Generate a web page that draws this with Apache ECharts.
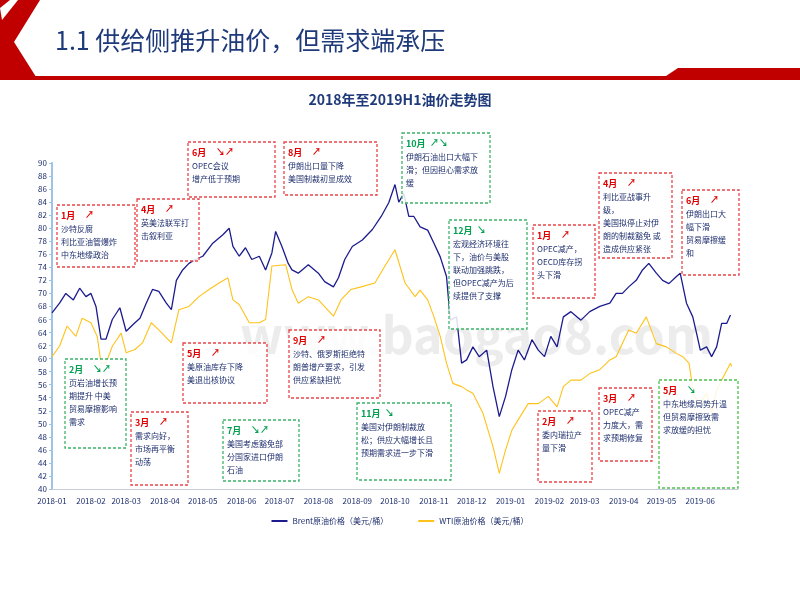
<!DOCTYPE html>
<html>
<head>
<meta charset="utf-8">
<script src="https://cdn.jsdelivr.net/npm/echarts@6/dist/echarts.min.js"></script>
<style>
  html, body { margin: 0; padding: 0; background: #fff; }
  #chart { width: 800px; height: 600px; }
</style>
</head>
<body>
<div id="chart"></div>
<script>
const FONT = '"Noto Sans CJK SC", "Noto Sans", sans-serif'
const NAVY = '#1f2f6e'

const brentDates = ['2018-01-01','2018-01-07','2018-01-12','2018-01-18','2018-01-23','2018-01-28','2018-02-01','2018-02-05','2018-02-09','2018-02-13','2018-02-18','2018-02-24','2018-03-01','2018-03-08','2018-03-12','2018-03-17','2018-03-22','2018-03-27','2018-04-02','2018-04-06','2018-04-10','2018-04-15','2018-04-20','2018-04-25','2018-05-01','2018-05-09','2018-05-17','2018-05-22','2018-05-25','2018-05-30','2018-06-04','2018-06-09','2018-06-15','2018-06-20','2018-06-25','2018-06-28','2018-07-03','2018-07-08','2018-07-11','2018-07-16','2018-07-24','2018-08-01','2018-08-06','2018-08-13','2018-08-17','2018-08-22','2018-08-28','2018-09-05','2018-09-13','2018-09-20','2018-09-26','2018-10-01','2018-10-04','2018-10-08','2018-10-12','2018-10-16','2018-10-21','2018-10-27','2018-11-01','2018-11-06','2018-11-11','2018-11-14','2018-11-19','2018-11-23','2018-11-27','2018-12-02','2018-12-07','2018-12-13','2018-12-18','2018-12-23','2018-12-28','2019-01-02','2019-01-07','2019-01-12','2019-01-18','2019-01-23','2019-01-28','2019-02-02','2019-02-07','2019-02-12','2019-02-18','2019-02-26','2019-03-05','2019-03-13','2019-03-21','2019-03-26','2019-03-31','2019-04-05','2019-04-11','2019-04-16','2019-04-21','2019-04-27','2019-05-02','2019-05-07','2019-05-13','2019-05-16','2019-05-21','2019-05-26','2019-05-29','2019-06-01','2019-06-06','2019-06-10','2019-06-14','2019-06-18','2019-06-22','2019-06-25']
const brentValues = [67,68.5,70,69,70.8,69.5,70,68,63,63,66,67.8,64.2,65.5,66.2,68.5,70.6,70.3,68.5,67.5,72,73.6,74.6,75.2,75.7,77.7,79,80,77.2,75.7,77,75.2,75.7,73.6,76.2,79.5,77.2,74.6,73.6,73.1,74.4,73.1,71.8,71,72.4,75.2,77.2,78.2,79.8,81.8,83.9,86.7,84,85.3,81.8,81.8,80.2,79.7,77.7,75.6,72.6,65.9,66.4,59.3,59.8,61.8,60.3,61.3,55.7,51.1,54.2,58.3,61.3,59.8,62.9,61.3,60.3,63.4,61.8,66.4,67.2,65.9,67.2,68,68.5,70,70,71,72,73.6,74.6,73.1,72,71.5,72.6,73.1,68.5,66.4,63.9,61.3,61.8,60.3,61.8,65.4,65.4,66.7]

const wtiDates = ['2018-01-01','2018-01-07','2018-01-13','2018-01-20','2018-01-25','2018-02-01','2018-02-06','2018-02-09','2018-02-13','2018-02-18','2018-02-25','2018-03-01','2018-03-08','2018-03-14','2018-03-21','2018-03-27','2018-04-06','2018-04-12','2018-04-20','2018-04-28','2018-05-06','2018-05-14','2018-05-21','2018-05-25','2018-05-30','2018-06-07','2018-06-15','2018-06-20','2018-06-25','2018-07-06','2018-07-11','2018-07-16','2018-07-24','2018-08-01','2018-08-13','2018-08-19','2018-08-27','2018-09-04','2018-09-15','2018-09-23','2018-10-01','2018-10-09','2018-10-17','2018-10-21','2018-10-27','2018-11-01','2018-11-06','2018-11-11','2018-11-16','2018-11-23','2018-11-27','2018-12-02','2018-12-10','2018-12-18','2018-12-23','2018-12-28','2019-01-02','2019-01-07','2019-01-15','2019-01-23','2019-01-31','2019-02-07','2019-02-12','2019-02-18','2019-02-26','2019-03-05','2019-03-13','2019-03-21','2019-03-26','2019-04-05','2019-04-11','2019-04-19','2019-04-27','2019-05-05','2019-05-13','2019-05-18','2019-05-23','2019-05-27','2019-06-01','2019-06-06','2019-06-10','2019-06-14','2019-06-18','2019-06-25','2019-06-26']
const wtiValues = [60.3,61.9,65,63.4,66.2,65.5,63.4,59.3,59.3,61.9,63.9,60.9,61.4,62.4,65.5,64.4,62.4,67.5,68,69.5,70.6,71.6,72.4,69,68.3,65.5,65.5,66,74.2,74.4,70.6,68.5,69.5,69,66.5,69,70.6,71,71.6,74.2,76.7,71.6,69.5,70.5,69,66.4,63.4,59.3,56.2,55.7,55.2,54.7,51.6,46.5,42.4,46,49,50.6,53.1,53.1,54.2,52.6,55.7,56.7,56.7,57.7,58.3,59.8,60.3,64.4,63.9,66.4,62.3,61.8,60.8,60.3,59.3,54.2,53.1,54.7,51.6,55.2,56.7,59.3,58.8]

const yMin = 40
const yMax = 90
const yInterval = 2

const RED = '#e8454a'
const GREEN = '#3db36b'
const notes = [
  { box: [57, 205, 78, 62], color: RED, head: '1月', headColor: '#e00000', arrows: '↗', lines: ['沙特反腐', '利比亚油管爆炸', '中东地缘政治'] },
  { box: [137, 199, 62, 62], color: RED, head: '4月', headColor: '#e00000', arrows: '↗', lines: ['英美法联军打', '击叙利亚'] },
  { box: [188, 142, 87, 55], color: RED, head: '6月', headColor: '#e00000', arrows: '↘↗', lines: ['OPEC会议', '增产低于预期'] },
  { box: [284, 142, 93, 53], color: RED, head: '8月', headColor: '#e00000', arrows: '↗', lines: ['伊朗出口量下降', '美国制裁初显成效'] },
  { box: [402, 133, 88, 70], color: GREEN, head: '10月', headColor: '#00a050', arrows: '↗↘', lines: ['伊朗石油出口大幅下', '滑；但因担心需求放', '缓'] },
  { box: [449, 220, 78, 109], color: GREEN, head: '12月', headColor: '#00a050', arrows: '↘', lines: ['宏观经济环境往', '下，油价与美股', '联动加强跳跌，', '但OPEC减产为后', '续提供了支撑'] },
  { box: [533, 225, 62, 73], color: RED, head: '1月', headColor: '#e00000', arrows: '↗', lines: ['OPEC减产，', 'OECD库存拐', '头下滑'] },
  { box: [599, 173, 73, 85], color: RED, head: '4月', headColor: '#e00000', arrows: '↗', lines: ['利比亚战事升', '级，', '美国拟停止对伊', '朗的制裁豁免 或', '造成供应紧张'] },
  { box: [682, 190, 57, 85], color: RED, head: '6月', headColor: '#e00000', arrows: '↗', lines: ['伊朗出口大', '幅下滑', '贸易摩擦缓', '和'] },
  { box: [65, 359, 61, 89], color: GREEN, head: '2月', headColor: '#00a050', arrows: '↘↗', lines: ['页岩油增长预', '期提升 中美', '贸易摩擦影响', '需求'] },
  { box: [131, 412, 57, 73], color: RED, head: '3月', headColor: '#e00000', arrows: '↗', lines: ['需求向好，', '市场再平衡', '动荡'] },
  { box: [183, 343, 84, 60], color: RED, head: '5月', headColor: '#e00000', arrows: '↗', lines: ['美原油库存下降', '美退出核协议'] },
  { box: [223, 420, 76, 61], color: GREEN, head: '7月', headColor: '#00a050', arrows: '↘↗', lines: ['美国考虑豁免部', '分国家进口伊朗', '石油'] },
  { box: [289, 330, 91, 68], color: RED, head: '9月', headColor: '#e00000', arrows: '↗', lines: ['沙特、俄罗斯拒绝特', '朗普增产要求，引发', '供应紧缺担忧'] },
  { box: [357, 403, 94, 77], color: GREEN, head: '11月', headColor: '#00a050', arrows: '↘', lines: ['美国对伊朗制裁放', '松；供应大幅增长且', '预期需求进一步下滑'] },
  { box: [538, 411, 54, 71], color: RED, head: '2月', headColor: '#e00000', arrows: '↗', lines: ['委内瑞拉产', '量下滑'] },
  { box: [599, 388, 53, 73], color: RED, head: '3月', headColor: '#e00000', arrows: '↗', lines: ['OPEC减产', '力度大，需', '求预期修复'] },
  { box: [659, 380, 79, 108], color: '#4cc24c', head: '5月', headColor: '#e00000', arrows: '↘', lines: ['中东地缘局势升温', '但贸易摩擦致需', '求放缓的担忧'] }
]

const noteGraphics = notes.flatMap((n) => {
  const [x, y, w, h] = n.box
  const items = [
    {
      type: 'rect', shape: { x, y, width: w, height: h }, z: 10,
      style: { fill: 'rgba(255,255,255,0.85)', stroke: n.color, lineWidth: 1.3, lineDash: [3, 2] }
    },
    {
      type: 'text', x: x + 4, y: y + 6, z: 11,
      style: { text: n.head, fill: n.headColor, font: 'bold 9px ' + FONT }
    },
    {
      type: 'text', x: x + 28, y: y + 5, z: 11,
      style: { text: n.arrows, fill: n.arrows === '↘' ? '#00a050' : n.headColor, font: 'bold 9px ' + FONT }
    }
  ]
  n.lines.forEach((line, i) => {
    items.push({
      type: 'text', x: x + 4, y: y + 20 + i * 13, z: 11,
      style: { text: line, fill: NAVY, font: '8px ' + FONT }
    })
  })
  return items
})

const chart = echarts.init(document.getElementById('chart'))
chart.setOption({
  animation: false,
  backgroundColor: '#fff',
  title: {
    text: '2018年至2019H1油价走势图',
    left: 'center',
    top: 88,
    textStyle: { fontFamily: FONT, fontSize: 14, fontWeight: 'bold', color: '#1f3a7a' }
  },
  grid: { left: 52, right: 62, top: 163, bottom: 111 },
  xAxis: {
    type: 'time',
    min: '2018-01-01',
    max: '2019-07-01',
    splitNumber: 18,
    axisLine: { lineStyle: { color: '#c8ccd8' } },
    axisTick: { show: false },
    splitLine: { show: false },
    axisLabel: {
      formatter: (value) => {
        const d = new Date(value)
        if (d.getFullYear() === 2019 && d.getMonth() === 6) return ''
        return d.getFullYear() + '-' + String(d.getMonth() + 1).padStart(2, '0')
      },
      fontFamily: FONT,
      fontSize: 8,
      color: NAVY,
      hideOverlap: false
    }
  },
  yAxis: {
    type: 'value',
    min: yMin,
    max: yMax,
    interval: yInterval,
    axisLine: { show: true, lineStyle: { color: '#9dc3e6', width: 2 } },
    axisTick: { show: true, length: 3, lineStyle: { color: '#9dc3e6' } },
    splitLine: { show: false },
    axisLabel: { fontFamily: FONT, fontSize: 8, color: NAVY, margin: 5 }
  },
  legend: {
    bottom: 70,
    left: 'center',
    itemWidth: 16,
    itemHeight: 2,
    itemGap: 30,
    icon: 'rect',
    textStyle: { fontFamily: FONT, fontSize: 8, color: NAVY },
    data: ['Brent原油价格（美元/桶）', 'WTI原油价格（美元/桶）']
  },
  series: [
    {
      name: 'Brent原油价格（美元/桶）',
      type: 'line',
      showSymbol: false,
      data: brentDates.map((d, i) => [d, brentValues[i]]),
      lineStyle: { color: '#1c1c8e', width: 1.3 },
      itemStyle: { color: '#1c1c8e' },
      z: 3
    },
    {
      name: 'WTI原油价格（美元/桶）',
      type: 'line',
      showSymbol: false,
      data: wtiDates.map((d, i) => [d, wtiValues[i]]),
      lineStyle: { color: '#ffc21a', width: 1.1 },
      itemStyle: { color: '#ffc21a' },
      z: 2
    }
  ],
  graphic: [
    // header decoration
    { type: 'polygon', shape: { points: [[0, 0], [40, 0], [14, 42], [38, 80], [0, 80], [0, 0]] }, style: { fill: '#c00000' } },
    { type: 'polygon', shape: { points: [[0, 8], [10, 0], [18, 0], [2, 20]] }, style: { fill: '#fff' } },
    { type: 'rect', shape: { x: 30, y: 76, width: 640, height: 4 }, style: { fill: '#c00000' } },
    { type: 'polygon', shape: { points: [[660, 80], [678, 68], [800, 68], [800, 80]] }, style: { fill: '#c00000' } },
    {
      type: 'text', x: 55, y: 28,
      style: { text: '1.1 供给侧推升油价，但需求端承压', fill: '#1f3a7a', font: '25px ' + FONT }
    },
    {
      type: 'text', x: 240, y: 310, z: 1,
      style: { text: 'www.baogao8.com', fill: 'rgba(200,200,200,0.35)', font: 'bold 50px ' + FONT }
    },
    ...noteGraphics
  ]
})
</script>
</body>
</html>
